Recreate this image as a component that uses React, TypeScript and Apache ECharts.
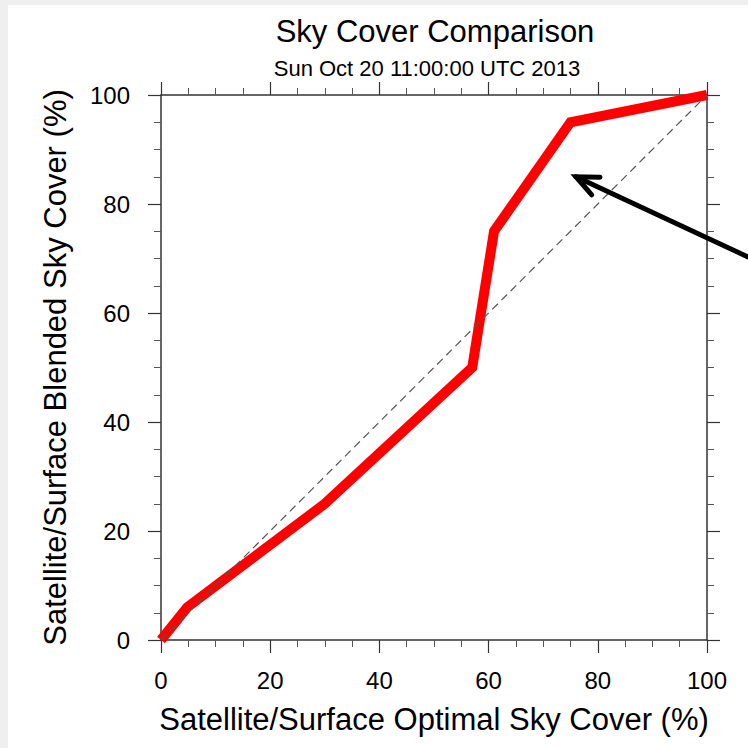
import React, { useEffect, useRef } from "react";
import * as echarts from "echarts";

const titleText = "Sky Cover Comparison";
const subtitleText = "Sun Oct 20 11:00:00 UTC 2013";
const xAxisTitle = "Satellite/Surface Optimal Sky Cover (%)";
const yAxisTitle = "Satellite/Surface Blended Sky Cover (%)";

const optimalCover = [0, 4.8, 30, 57, 61, 75, 100];
const blendedCover = [0, 6, 25, 50, 75, 95, 100];
const diagonalX = [0, 100];
const diagonalY = [0, 100];
// arrow annotation in data coordinates: [tail, tip]
const arrowTail = [107.5, 70.3];
const arrowTip = [76, 85];

const FONT = "Liberation Sans, Arial, Helvetica, sans-serif";

export default function App() {
  const ref = useRef<HTMLDivElement>(null);
  useEffect(() => {
    if (!ref.current) return;
    const chart = echarts.init(ref.current, undefined, { renderer: "svg" });
    const axisCommon = {
      type: "value" as const,
      min: 0,
      max: 100,
      interval: 20,
      axisLine: { show: true, onZero: false, lineStyle: { color: "#333", width: 1.5 } },
      axisTick: { show: true, inside: false, length: 13, lineStyle: { color: "#333", width: 1.2 } },
      minorTick: { show: true, splitNumber: 4, length: 7, lineStyle: { color: "#555", width: 1 } },
      splitLine: { show: false },
    };
    const option: any = {
      animation: false,
      backgroundColor: "#ffffff",
      title: [
        {
          text: titleText,
          left: 430,
          top: 11,
          textAlign: "center",
          textStyle: { fontFamily: FONT, fontSize: 31, fontWeight: "normal", color: "#000" },
        },
        {
          text: subtitleText,
          left: 422,
          top: 52,
          textAlign: "center",
          textStyle: { fontFamily: FONT, fontSize: 22, fontWeight: "normal", color: "#000" },
        },
      ],
      grid: { left: 161, right: 41, top: 95, bottom: 108, containLabel: false },
      xAxis: [
        {
          ...axisCommon,
          position: "bottom",
          name: xAxisTitle,
          nameLocation: "middle",
          nameGap: 64,
          nameTextStyle: { fontFamily: FONT, fontSize: 31, color: "#000" },
          axisLabel: { show: true, margin: 28, fontFamily: FONT, fontSize: 24, color: "#000" },
        },
        {
          ...axisCommon,
          position: "top",
          axisLabel: { show: false },
        },
      ],
      yAxis: [
        {
          ...axisCommon,
          position: "left",
          name: yAxisTitle,
          nameLocation: "middle",
          nameGap: 90,
          nameTextStyle: { fontFamily: FONT, fontSize: 31, color: "#000" },
          axisLabel: { show: true, margin: 31, fontFamily: FONT, fontSize: 24, color: "#000" },
        },
        {
          ...axisCommon,
          position: "right",
          axisLabel: { show: false },
        },
      ],
      series: [
        {
          type: "line",
          data: diagonalX.map((x, i) => [x, diagonalY[i]]),
          symbol: "none",
          lineStyle: { color: "#555", width: 1.2, type: [8, 5] },
          z: 3,
        },
        {
          type: "line",
          data: optimalCover.map((x, i) => [x, blendedCover[i]]),
          symbol: "none",
          clip: false,
          lineStyle: { color: "#ff0000", width: 10, join: "miter", cap: "butt" },
          z: 2,
        },
      ],
    };
    chart.setOption(option);

    const tail = chart.convertToPixel({ gridIndex: 0 }, arrowTail) as number[];
    const tip = chart.convertToPixel({ gridIndex: 0 }, arrowTip) as number[];
    const ang = Math.atan2(tail[1] - tip[1], tail[0] - tip[0]);
    const headLen = 24;
    const spread = (24 * Math.PI) / 180;
    const a1 = [tip[0] + headLen * Math.cos(ang - spread), tip[1] + headLen * Math.sin(ang - spread)];
    const a2 = [tip[0] + headLen * Math.cos(ang + spread), tip[1] + headLen * Math.sin(ang + spread)];

    chart.setOption({
      graphic: [
        { type: "rect", shape: { x: 0, y: 0, width: 748, height: 5 }, style: { fill: "#efefef" }, silent: true },
        { type: "rect", shape: { x: 0, y: 0, width: 8, height: 748 }, style: { fill: "#efefef" }, silent: true },
        {
          type: "line",
          shape: { x1: tail[0], y1: tail[1], x2: tip[0], y2: tip[1] },
          style: { stroke: "#000", lineWidth: 5, lineCap: "round" },
          z: 10,
        },
        {
          type: "polyline",
          shape: { points: [a1, tip, a2] },
          style: { stroke: "#000", lineWidth: 5, lineCap: "round", lineJoin: "miter", fill: "none" },
          z: 10,
        },
      ],
    });
    return () => chart.dispose();
  }, []);
  return (
    <div
      ref={ref}
      style={{ position: "fixed", left: 0, top: 0, width: 748, height: 748 }}
    />
  );
}
